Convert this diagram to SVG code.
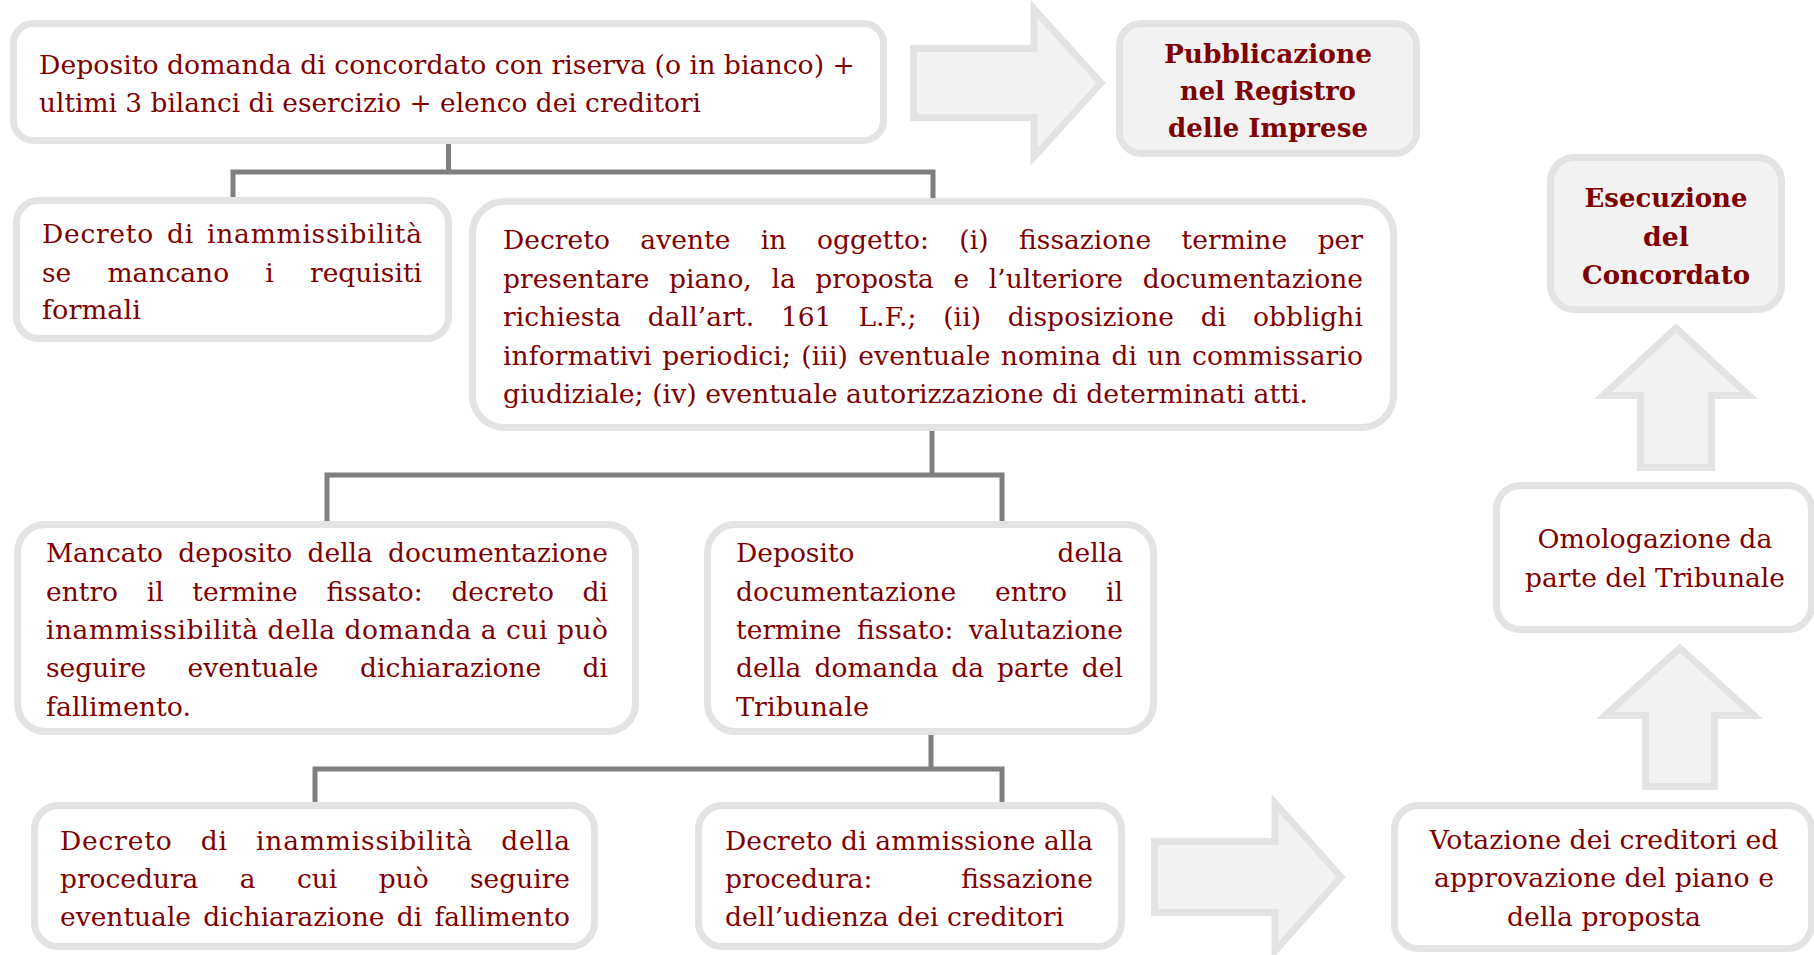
<svg xmlns="http://www.w3.org/2000/svg" width="1814" height="955" viewBox="0 0 1814 955">
<style>
.box{fill:#ffffff;stroke:#e3e3e3;stroke-width:7}
.boxg{fill:#f2f2f2;stroke:#e3e3e3;stroke-width:7}
.arrow{fill:#f2f2f2;stroke:#e3e3e3;stroke-width:7;stroke-linejoin:miter}
.conn{fill:none;stroke:#7f7f7f;stroke-width:5}
.t{font-family:"DejaVu Serif","Liberation Serif",serif;font-size:26.5px;fill:#7f0000}
.b{font-weight:bold}
.c{text-anchor:middle}
.e{text-anchor:end}
</style>
<rect width="1814" height="955" fill="#ffffff"/>

<g id="connectors">
<path class="conn" d="M448.5 144 V172 M233 201 V172 H933 V201"/>
<path class="conn" d="M932 429 V475 M327 524 V475 H1002 V524"/>
<path class="conn" d="M931 734 V769 M315 805 V769 H1002 V805"/>
</g>

<g id="arrows">
<path class="arrow" d="M913.5 48.5 H1034 V9 L1101 83 L1034 157 V117.5 H913.5 Z"/>
<path class="arrow" d="M1154.5 841.5 H1275 V803 L1341 877 L1275 951 V912.5 H1154.5 Z"/>
<path class="arrow" d="M1676 328 L1749 395.5 H1711.5 V467.5 H1640.5 V395.5 H1603 Z"/>
<path class="arrow" d="M1680 648 L1754 715.5 H1714.5 V786.5 H1645.5 V715.5 H1605 Z"/>
</g>

<g id="n1">
<rect class="box" x="13.5" y="23.5" width="870" height="117" rx="20"/>
<text class="t" x="39" y="74" textLength="816" lengthAdjust="spacingAndGlyphs">Deposito domanda di concordato con riserva (o in bianco) +</text>
<text class="t" x="39" y="112" textLength="662" lengthAdjust="spacingAndGlyphs">ultimi 3 bilanci di esercizio + elenco dei creditori</text>
</g>

<g id="n-pubblicazione">
<rect class="boxg" x="1119.5" y="23.5" width="297" height="130" rx="22"/>
<text class="t b c" x="1268" y="63" textLength="208" lengthAdjust="spacingAndGlyphs">Pubblicazione</text>
<text class="t b c" x="1268" y="100" textLength="176" lengthAdjust="spacingAndGlyphs">nel Registro</text>
<text class="t b c" x="1268" y="137" textLength="200" lengthAdjust="spacingAndGlyphs">delle Imprese</text>
</g>

<g id="n-esecuzione">
<rect class="boxg" x="1550.5" y="157.5" width="231" height="152" rx="24"/>
<text class="t b c" x="1666" y="207" textLength="163" lengthAdjust="spacingAndGlyphs">Esecuzione</text>
<text class="t b c" x="1666" y="246" textLength="46" lengthAdjust="spacingAndGlyphs">del</text>
<text class="t b c" x="1666" y="284" textLength="168" lengthAdjust="spacingAndGlyphs">Concordato</text>
</g>

<g id="n2">
<rect class="box" x="16.5" y="200.5" width="432" height="138" rx="22"/>
<text class="t" x="42" y="243" textLength="380" lengthAdjust="spacing" word-spacing="4">Decreto di inammissibilità</text>
<text class="t" x="42" y="282" textLength="380" lengthAdjust="spacing" word-spacing="27.8">se mancano i requisiti</text>
<text class="t" x="42" y="319" textLength="99" lengthAdjust="spacingAndGlyphs">formali</text>
</g>

<g id="n3">
<rect class="box" x="472.5" y="201.5" width="921" height="226" rx="32"/>
<text class="t" x="503" y="249" textLength="860" lengthAdjust="spacing" word-spacing="22">Decreto avente in oggetto: (i) fissazione termine per</text>
<text class="t" x="503" y="288" textLength="860" lengthAdjust="spacing" word-spacing="11.2">presentare piano, la proposta e l’ulteriore documentazione</text>
<text class="t" x="503" y="326" textLength="860" lengthAdjust="spacing" word-spacing="18.1">richiesta dall’art. 161 L.F.; (ii) disposizione di obblighi</text>
<text class="t" x="503" y="365" textLength="860" lengthAdjust="spacing" word-spacing="1.7">informativi periodici; (iii) eventuale nomina di un commissario</text>
<text class="t" x="503" y="403" textLength="805" lengthAdjust="spacingAndGlyphs">giudiziale; (iv) eventuale autorizzazione di determinati atti.</text>
</g>

<g id="n4">
<rect class="box" x="17.5" y="524.5" width="618" height="207" rx="28"/>
<text class="t" x="46" y="562" textLength="562" lengthAdjust="spacing" word-spacing="6.9">Mancato deposito della documentazione</text>
<text class="t" x="46" y="601" textLength="562" lengthAdjust="spacing" word-spacing="20.2">entro il termine fissato: decreto di</text>
<text class="t" x="46" y="639" textLength="562" lengthAdjust="spacing">inammissibilità della domanda a cui può</text>
<text class="t" x="46" y="677" textLength="562" lengthAdjust="spacing" word-spacing="33">seguire eventuale dichiarazione di</text>
<text class="t" x="46" y="716" textLength="145" lengthAdjust="spacingAndGlyphs">fallimento.</text>
</g>

<g id="n5">
<rect class="box" x="707.5" y="524.5" width="446" height="207" rx="28"/>
<text class="t" x="736" y="562">Deposito</text>
<text class="t e" x="1123" y="562">della</text>
<text class="t" x="736" y="601" textLength="387" lengthAdjust="spacing" word-spacing="30.6">documentazione entro il</text>
<text class="t" x="736" y="639" textLength="387" lengthAdjust="spacing" word-spacing="7">termine fissato: valutazione</text>
<text class="t" x="736" y="677" textLength="387" lengthAdjust="spacing" word-spacing="4.6">della domanda da parte del</text>
<text class="t" x="736" y="716" textLength="133" lengthAdjust="spacingAndGlyphs">Tribunale</text>
</g>

<g id="n6">
<rect class="box" x="34.5" y="805.5" width="560" height="141" rx="24"/>
<text class="t" x="60" y="850" textLength="510" lengthAdjust="spacing" word-spacing="19">Decreto di inammissibilità della</text>
<text class="t" x="60" y="888" textLength="510" lengthAdjust="spacing" word-spacing="33">procedura a cui può seguire</text>
<text class="t" x="60" y="926" textLength="510" lengthAdjust="spacing" word-spacing="3.9">eventuale dichiarazione di fallimento</text>
</g>

<g id="n7">
<rect class="box" x="698.5" y="805.5" width="423" height="141" rx="24"/>
<text class="t" x="725" y="850" textLength="368" lengthAdjust="spacing">Decreto di ammissione alla</text>
<text class="t" x="725" y="888">procedura:</text>
<text class="t e" x="1093" y="888">fissazione</text>
<text class="t" x="725" y="926" textLength="339" lengthAdjust="spacingAndGlyphs">dell’udienza dei creditori</text>
</g>

<g id="n-votazione">
<rect class="box" x="1394.5" y="805.5" width="417" height="143" rx="24"/>
<text class="t c" x="1604" y="849" textLength="349" lengthAdjust="spacingAndGlyphs">Votazione dei creditori ed</text>
<text class="t c" x="1604" y="887" textLength="340" lengthAdjust="spacingAndGlyphs">approvazione del piano e</text>
<text class="t c" x="1604" y="926" textLength="194" lengthAdjust="spacingAndGlyphs">della proposta</text>
</g>

<g id="n-omologazione">
<rect class="box" x="1496.5" y="485.5" width="315" height="144" rx="24"/>
<text class="t c" x="1655" y="548" textLength="235" lengthAdjust="spacingAndGlyphs">Omologazione da</text>
<text class="t c" x="1655" y="587" textLength="260" lengthAdjust="spacingAndGlyphs">parte del Tribunale</text>
</g>
</svg>
